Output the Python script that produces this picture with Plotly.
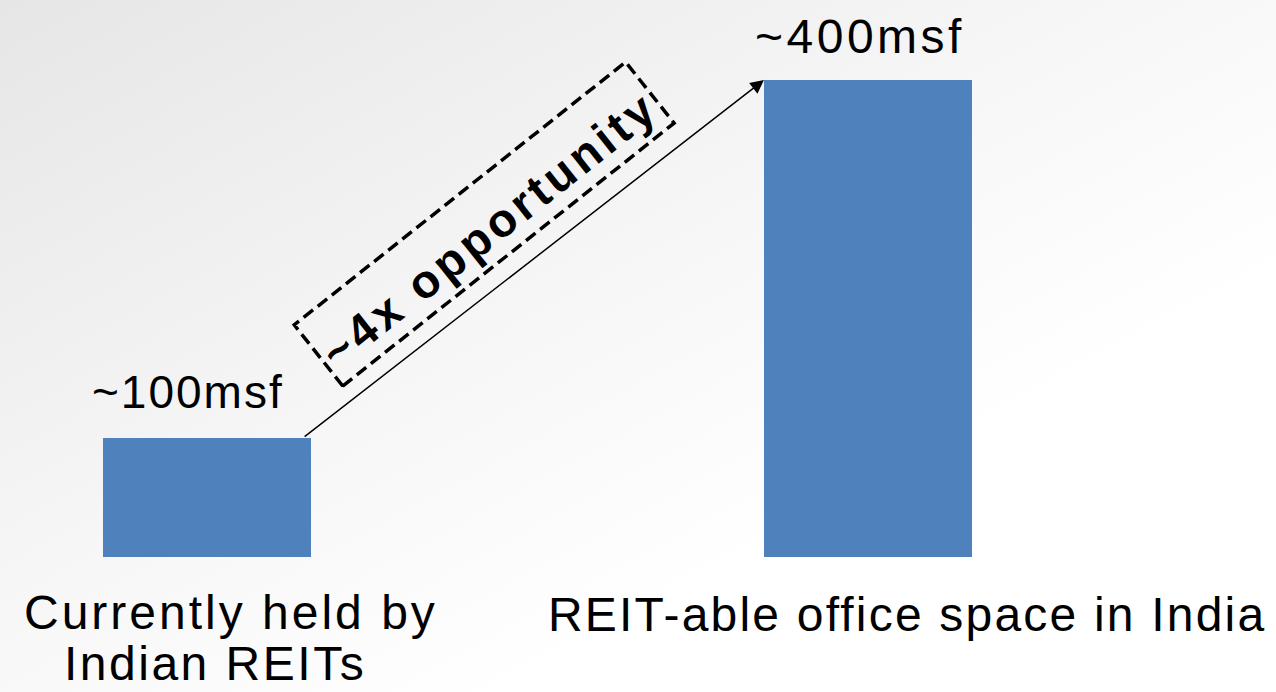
import base64
import math
import plotly.graph_objects as go

# ---- data ----
categories = ["Currently held by<br>Indian REITs", "REIT-able office space in India"]
values = [100, 400]
value_labels = ["~100msf", "~400msf"]
callout = "~4x opportunity"

BAR_COLOR = "#4F81BD"
FONT = "Arial, Liberation Sans, sans-serif"
W, H = 1276, 692
BAR_W = 0.315
X_RANGE = [-0.313, 1.617]
Y_RANGE = [-113.2, 467.1]

x_pos = list(range(len(categories)))

def px_to_data(px, py):
    xd = X_RANGE[0] + px / W * (X_RANGE[1] - X_RANGE[0])
    yd = Y_RANGE[1] - py / H * (Y_RANGE[1] - Y_RANGE[0])
    return xd, yd

def data_to_px(xd, yd):
    px = (xd - X_RANGE[0]) / (X_RANGE[1] - X_RANGE[0]) * W
    py = (Y_RANGE[1] - yd) / (Y_RANGE[1] - Y_RANGE[0]) * H
    return px, py

fig = go.Figure()
fig.add_trace(go.Bar(x=x_pos, y=values, width=BAR_W,
                     marker=dict(color=BAR_COLOR, line=dict(width=0)),
                     hoverinfo="skip"))

def ls(text, sp):
    return f'<span style="letter-spacing:{sp}px">{text}</span>'

ann = []
# value labels
val_font = [46, 48]
val_sp = [2, 3.5]
val_xshift = [-19, -8]
val_yshift = [46, 44]
for i, (v, lab) in enumerate(zip(values, value_labels)):
    ann.append(dict(x=x_pos[i], y=v, xref="x", yref="y", text=ls(lab, val_sp[i]),
                    showarrow=False, yanchor="middle", xanchor="center",
                    yshift=val_yshift[i], xshift=val_xshift[i],
                    font=dict(family=FONT, size=val_font[i], color="#000000")))
# category labels (one annotation per line)
line_style = {
    (0, 0): dict(sp=3.0, xshift=24, yshift=-55, anchor="middle"),
    (0, 1): dict(sp=2.5, xshift=8, yshift=-134, anchor="bottom"),
    (1, 0): dict(sp=2.2, xshift=39, yshift=-57, anchor="middle"),
}
for i, c in enumerate(categories):
    for j, line in enumerate(c.split("<br>")):
        st = line_style[(i, j)]
        ann.append(dict(x=x_pos[i], y=0, xref="x", yref="y", text=ls(line, st["sp"]),
                        showarrow=False, yanchor=st["anchor"], xanchor="center",
                        xshift=st["xshift"], yshift=st["yshift"], borderpad=0,
                        font=dict(family=FONT, size=48, color="#000000")))

# arrow from top of first bar to top-left corner of second bar
tail_x = x_pos[0] + BAR_W / 2 - 0.012
tail_y = values[0]
head_x = x_pos[1] - BAR_W / 2
head_y = values[1]
ann.append(dict(x=head_x, y=head_y, ax=tail_x, ay=tail_y, xref="x", yref="y",
                axref="x", ayref="y", text="", showarrow=True, arrowhead=2,
                arrowsize=1.8, arrowwidth=1.5, arrowcolor="#000000", standoff=0))

# callout box + text, positioned relative to arrow
p0 = data_to_px(tail_x, tail_y)
p1 = data_to_px(head_x, head_y)
ang = math.atan2(p0[1] - p1[1], p1[0] - p0[0])  # radians, upward
ang_box = ang + math.radians(0.6)
ux, uy = math.cos(ang_box), -math.sin(ang_box)
nx, ny = -math.sin(ang_box), -math.cos(ang_box)
mid = ((p0[0] + p1[0]) / 2, (p0[1] + p1[1]) / 2)
cx = mid[0] + nx * 58 - ux * 17
cy = mid[1] + ny * 58 - uy * 17
L, Wd = 423, 78
corners = []
for a, b in [(-1, -1), (1, -1), (1, 1), (-1, 1)]:
    px = cx + a * L / 2 * ux + b * Wd / 2 * nx
    py = cy + a * L / 2 * uy + b * Wd / 2 * ny
    corners.append(px_to_data(px, py))
path = "M " + " L ".join(f"{xd},{yd}" for xd, yd in corners) + " Z"
shapes = [dict(type="path", path=path, xref="x", yref="y",
               line=dict(color="#000000", width=3.5, dash="12px,6px"))]
tcx, tcy = px_to_data(cx + 3 - nx * 3, cy + 3 - ny * 3)
ann.append(dict(x=tcx, y=tcy, xref="x", yref="y", text="<b>" + ls(callout, 4) + "</b>",
                showarrow=False, textangle=-math.degrees(ang_box),
                xanchor="center", yanchor="middle",
                font=dict(family=FONT, size=47, color="#000000")))

# gradient background
svg = (f'<svg xmlns="http://www.w3.org/2000/svg" width="{W}" height="{H}">'
       '<defs><linearGradient id="g" x1="0" y1="0" x2="1" y2="1">'
       '<stop offset="0" stop-color="#e6e6e6"/><stop offset="0.45" stop-color="#f7f7f7"/>'
       '<stop offset="0.7" stop-color="#ffffff"/></linearGradient></defs>'
       f'<rect width="{W}" height="{H}" fill="url(#g)"/></svg>')
src = "data:image/svg+xml;base64," + base64.b64encode(svg.encode()).decode()

fig.update_layout(
    width=W, height=H,
    margin=dict(l=0, r=0, t=0, b=0),
    paper_bgcolor="#ffffff", plot_bgcolor="rgba(0,0,0,0)",
    showlegend=False,
    xaxis=dict(range=X_RANGE, visible=False, fixedrange=True),
    yaxis=dict(range=Y_RANGE, visible=False, fixedrange=True),
    annotations=ann, shapes=shapes,
    images=[dict(source=src, xref="paper", yref="paper", x=0, y=1, sizex=1, sizey=1,
                 sizing="stretch", xanchor="left", yanchor="top", layer="below")],
    bargap=0,
)
fig.write_html("out.html", config={"displayModeBar": False})
